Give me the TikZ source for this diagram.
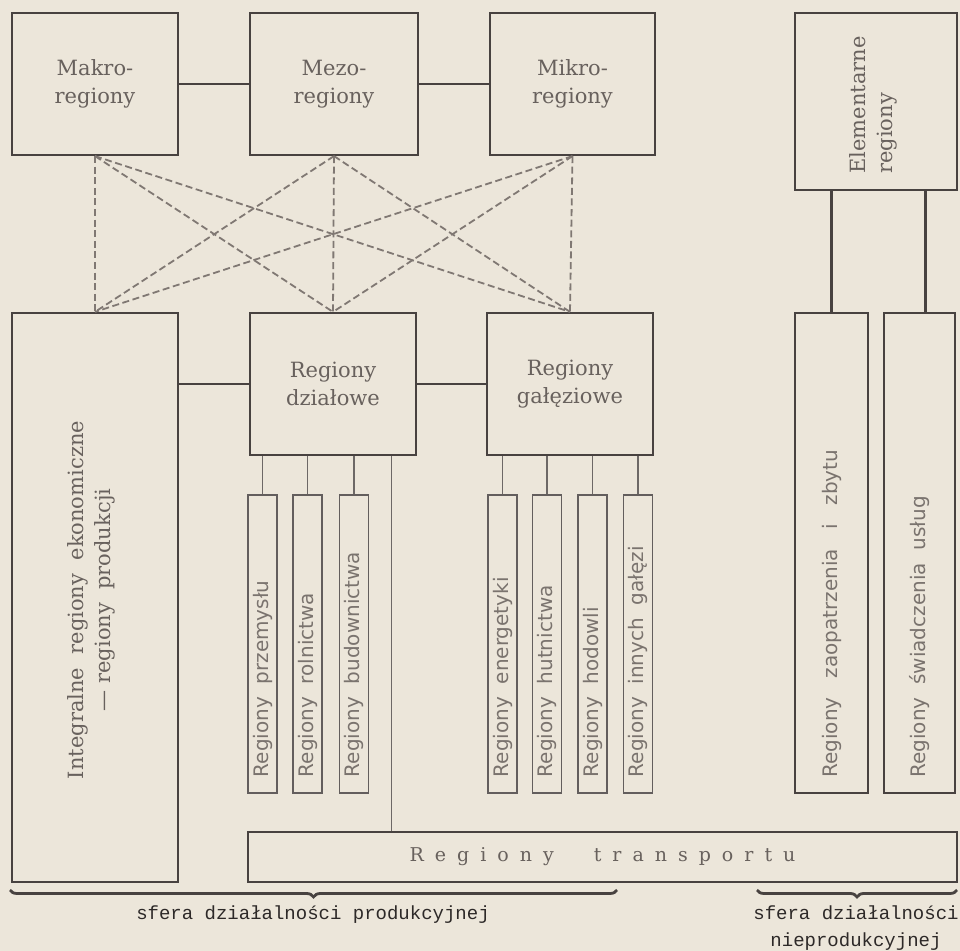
\documentclass[tikz,border=0pt]{standalone}
\usepackage{fontspec}
\usepackage{tikz}
\usetikzlibrary{decorations.pathreplacing}

\newfontfamily\boxfont{DejaVu Serif}
\newfontfamily\stripfont{DejaVu Sans}
\newfontfamily\footfont{Liberation Mono}

\definecolor{paper}{RGB}{236,230,218}
\definecolor{ink}{RGB}{72,66,64}
\definecolor{greyink}{RGB}{104,97,93}
\definecolor{lightink}{RGB}{122,115,110}
\definecolor{dashink}{RGB}{128,120,115}
\definecolor{footink}{RGB}{45,41,40}

\newcommand{\ls}{\hspace{5.5pt}}

\begin{document}
\begin{tikzpicture}[x=0.5pt,y=-0.5pt,
    box/.style={draw=ink, line width=1.1pt, inner sep=0pt, text=greyink, align=center,
      font=\boxfont\fontsize{10.5}{14}\selectfont},
    strip/.style={draw=ink!85, line width=0.7pt, inner sep=0pt,
      minimum width=14.5pt, minimum height=149pt},
    vtext/.style={rotate=90, inner sep=0pt, text=greyink,
      font=\boxfont\fontsize{10.5}{13.5}\selectfont},
    striptext/.style={rotate=90, anchor=west, inner sep=0pt, text=lightink,
      font=\stripfont\fontsize{10}{11}\selectfont},
    link/.style={draw=ink, line width=1.1pt},
    thinlink/.style={draw=ink!80, line width=0.6pt},
    cross/.style={draw=dashink, line width=0.9pt, dash pattern=on 3.5pt off 1.8pt},
    curly/.style={draw=ink, line width=1.4pt,
      decorate, decoration={brace, mirror, amplitude=3.5pt}},
    foot/.style={inner sep=0pt, text=footink, align=center,
      font=\footfont\fontsize{9.5}{13.5}\selectfont}]

		% Paper and frame of the page
		\fill[paper] (0,0) rectangle (960,951);
		\useasboundingbox (0,0) rectangle (960,951);

		% Upper row
		\node[box, minimum width=83pt, minimum height=71pt] (makro) at (95,84) {Makro-\\regiony};
		\node[box, minimum width=84pt, minimum height=71pt] (mezo) at (334,84) {Mezo-\\regiony};
		\node[box, minimum width=82.5pt, minimum height=71pt] (mikro) at (572.5,84) {Mikro-\\regiony};
		\node[box, minimum width=81pt, minimum height=88.5pt] (elem) at (876,101.5) {};
		\node[vtext, align=left] (elem-t) at (873,105) {Elementarne\\regiony};

		% Second row
		\node[box, minimum width=83pt, minimum height=284.5pt] (integ) at (95,597.5) {};
		\node[vtext, align=center] (integ-t) at (91,600) {Integralne\ \ regiony\ \ ekonomiczne\\— regiony\ \ produkcji};
		\node[box, minimum width=83pt, minimum height=71pt] (dzial) at (333,384) {Regiony\\działowe};
		\node[box, minimum width=83pt, minimum height=71pt] (gal) at (570,384) {Regiony\\gałęziowe};
		\node[box, minimum width=36.5pt, minimum height=240pt] (zaop) at (831.5,553) {};
		\node[box, minimum width=35.5pt, minimum height=240pt] (swiad) at (919.5,553) {};
		\node[striptext] (zaop-t) at ([yshift=8pt]zaop.south) {Regiony\ \ \ zaopatrzenia\ \ \ i\ \ \ zbytu};
		\node[striptext] (swiad-t) at ([yshift=8pt]swiad.south) {Regiony\ \ świadczenia\ \ usług};

		% Narrow strips under the two boxes
		\node[strip] (przem) at (262.5,644) {};
		\node[strip] (rolnic) at (307.5,644) {};
		\node[strip] (budow) at (354,644) {};
		\node[strip] (energ) at (502.5,644) {};
		\node[strip] (hutn) at (547,644) {};
		\node[strip] (hodow) at (592.5,644) {};
		\node[strip] (innych) at (638,644) {};
		\node[striptext] (przem-t) at ([yshift=8pt]przem.south) {Regiony\ \ przemysłu};
		\node[striptext] (rolnic-t) at ([yshift=8pt]rolnic.south) {Regiony\ \ rolnictwa};
		\node[striptext] (budow-t) at ([yshift=8pt]budow.south) {Regiony\ \ budownictwa};
		\node[striptext] (energ-t) at ([yshift=8pt]energ.south) {Regiony\ \ energetyki};
		\node[striptext] (hutn-t) at ([yshift=8pt]hutn.south) {Regiony\ \ hutnictwa};
		\node[striptext] (hodow-t) at ([yshift=8pt]hodow.south) {Regiony\ \ hodowli};
		\node[striptext] (innych-t) at ([yshift=8pt]innych.south) {Regiony\ \ innych\ \ gałęzi};

		% Transport along the bottom
		\node[box, minimum width=354.5pt, minimum height=25pt,
			font=\boxfont\fontsize{9.5}{12}\selectfont] (transp) at (602.5,857)
			{R\ls e\ls g\ls i\ls o\ls n\ls y\hspace{20pt}t\ls r\ls a\ls n\ls s\ls p\ls o\ls r\ls t\ls u};

		% Solid connectors
		\draw[link] (makro.east) -- (mezo.west);
		\draw[link] (mezo.east) -- (mikro.west);
		\draw[link] (integ.east |- dzial.west) -- (dzial.west);
		\draw[link] (dzial.east) -- (gal.west);
		\draw[link] (zaop.north) -- (zaop.north |- elem.south);
		\draw[link] ([xshift=3pt]swiad.north) -- ([xshift=3pt]swiad.north |- elem.south);
		\draw[thinlink] ([xshift=-13pt]dzial.south east) -- ([xshift=-13pt]dzial.south east |- transp.north);

		\draw[thinlink] (przem.north) -- (przem.north |- dzial.south);
		\draw[thinlink] (rolnic.north) -- (rolnic.north |- dzial.south);
		\draw[thinlink] (budow.north) -- (budow.north |- dzial.south);
		\draw[thinlink] (energ.north) -- (energ.north |- gal.south);
		\draw[thinlink] (hutn.north) -- (hutn.north |- gal.south);
		\draw[thinlink] (hodow.north) -- (hodow.north |- gal.south);
		\draw[thinlink] (innych.north) -- (innych.north |- gal.south);

		% Dashed links between the rows
		\draw[cross] (makro.south) -- (integ.north);
		\draw[cross] (makro.south) -- (dzial.north);
		\draw[cross] (makro.south) -- (gal.north);
		\draw[cross] (mezo.south) -- (integ.north);
		\draw[cross] (mezo.south) -- (dzial.north);
		\draw[cross] (mezo.south) -- (gal.north);
		\draw[cross] (mikro.south) -- (integ.north);
		\draw[cross] (mikro.south) -- (dzial.north);
		\draw[cross] (mikro.south) -- (gal.north);

		% Braces and the two spheres
		\coordinate (prodL) at (10,890);
		\coordinate (prodR) at (617,890);
		\coordinate (nprodL) at (757,890);
		\coordinate (nprodR) at (957,890);
		\draw[curly] (prodL) -- (prodR);
		\draw[curly] (nprodL) -- (nprodR);
		\node[foot] (prod) at (313,915) {sfera działalności produkcyjnej};
		\node[foot] (nprod) at (856,928) {sfera działalności\\nieprodukcyjnej};
	\end{tikzpicture}
\end{document}
